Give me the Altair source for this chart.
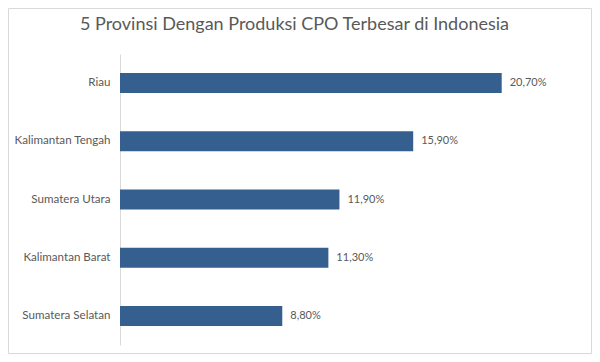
import altair as alt
import pandas as pd

provinces = ["Riau", "Kalimantan Tengah", "Sumatera Utara", "Kalimantan Barat", "Sumatera Selatan"]
shares = [20.7, 15.9, 11.9, 11.3, 8.8]

df = pd.DataFrame({"prov": provinces, "val": shares})

FONT = "Lato"
GREY = "#595959"

base = alt.Chart(df)

xscale = alt.Scale(domain=[0, 25], nice=False, zero=True)

bars = base.mark_bar(color="#355F8F", size=20).encode(
    y=alt.Y("prov:N", sort=provinces, title=None,
            scale=alt.Scale(paddingInner=0.0, paddingOuter=0.0),
            axis=alt.Axis(ticks=False, domainColor="#D9D9D9", domainWidth=1,
                          labelColor=GREY, labelFontSize=11.6, labelFont=FONT,
                          labelPadding=10)),
    x=alt.X("val:Q", scale=xscale, axis=None),
)

labels = base.transform_calculate(
    lab="replace(format(datum.val, '.2f'), '.', ',') + '%'"
).mark_text(align="left", baseline="middle", dx=8, font=FONT, fontSize=11, color=GREY).encode(
    y=alt.Y("prov:N", sort=provinces),
    x=alt.X("val:Q", scale=xscale),
    text="lab:N",
)

border = alt.Chart(pd.DataFrame({"a": [0]})).mark_rect(
    fill=None, stroke="#D9D9D9", strokeWidth=1
).encode(
    x=alt.value(-111.5), x2=alt.value(471.5), y=alt.value(-45.5), y2=alt.value(299.5)
)

chart = alt.layer(border, bars, labels).properties(
    width=461, height=291,
    autosize=alt.AutoSizeParams(type="none"),
    padding={"left": 112, "top": 46, "right": 11, "bottom": 9},
    title=alt.TitleParams("5 Provinsi Dengan Produksi CPO Terbesar di Indonesia",
                          font=FONT, fontSize=18, fontWeight="normal", color=GREY,
                          anchor="middle", dx=-56, offset=0, dy=26),
).configure_view(stroke=None).configure_axis(grid=False)

chart.save("out.html", embed_options={"renderer": "svg", "actions": False})
